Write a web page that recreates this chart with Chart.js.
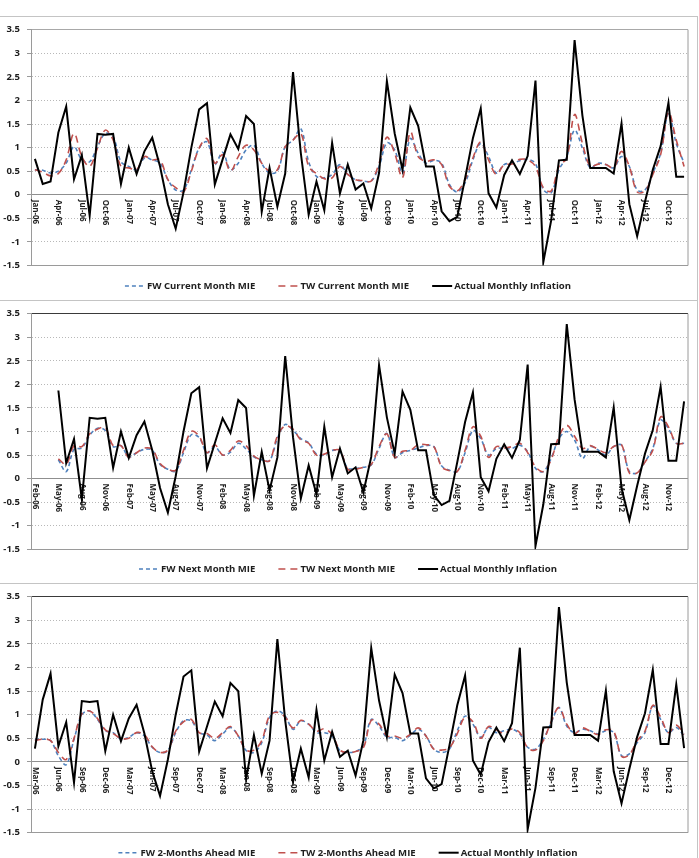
<!DOCTYPE html>
<html>
<head>
<meta charset="utf-8">
<script src="https://cdn.jsdelivr.net/npm/chart.js@4.4.1/dist/chart.umd.min.js"></script>
<style>
body{margin:0;background:#fff;width:699px;height:858px;position:relative;overflow:hidden;}
.sep{position:absolute;left:0;width:697px;height:0;border-top:1px solid #c4c4c4;}
.vline{position:absolute;left:697px;top:16px;width:0;height:842px;border-left:1px solid #c4c4c4;}
canvas{position:absolute;left:0;display:block;}
</style>
</head>
<body>
<div class="sep" style="top:16px"></div>
<div class="sep" style="top:300px"></div>
<div class="sep" style="top:583px"></div>
<div class="vline"></div>
<canvas id="c1" width="699" height="283" style="top:17px"></canvas>
<canvas id="c2" width="699" height="282" style="top:301px"></canvas>
<canvas id="c3" width="699" height="274" style="top:584px"></canvas>
<script>
// months Jan-06 .. Feb-13
var months = ['Jan-06','Feb-06','Mar-06','Apr-06','May-06','Jun-06','Jul-06','Aug-06','Sep-06','Oct-06','Nov-06','Dec-06',
    'Jan-07','Feb-07','Mar-07','Apr-07','May-07','Jun-07','Jul-07','Aug-07','Sep-07','Oct-07','Nov-07','Dec-07',
    'Jan-08','Feb-08','Mar-08','Apr-08','May-08','Jun-08','Jul-08','Aug-08','Sep-08','Oct-08','Nov-08','Dec-08',
    'Jan-09','Feb-09','Mar-09','Apr-09','May-09','Jun-09','Jul-09','Aug-09','Sep-09','Oct-09','Nov-09','Dec-09',
    'Jan-10','Feb-10','Mar-10','Apr-10','May-10','Jun-10','Jul-10','Aug-10','Sep-10','Oct-10','Nov-10','Dec-10',
    'Jan-11','Feb-11','Mar-11','Apr-11','May-11','Jun-11','Jul-11','Aug-11','Sep-11','Oct-11','Nov-11','Dec-11',
    'Jan-12','Feb-12','Mar-12','Apr-12','May-12','Jun-12','Jul-12','Aug-12','Sep-12','Oct-12','Nov-12','Dec-12',
    'Jan-13','Feb-13'];

// actual monthly inflation, Jan-06 .. Feb-13
var actualInflation = [0.76,0.23,0.28,1.32,1.87,0.33,0.84,-0.44,1.29,1.27,1.29,0.23,
    1.00,0.44,0.92,1.21,0.60,-0.20,-0.72,0.05,1.00,1.81,1.94,0.22,
    0.75,1.28,0.97,1.67,1.50,-0.36,0.57,-0.25,0.45,2.60,0.88,-0.42,
    0.28,-0.33,1.10,0.03,0.64,0.11,0.24,-0.29,0.46,2.41,1.30,0.53,
    1.85,1.46,0.60,0.60,-0.35,-0.56,-0.47,0.35,1.20,1.83,0.03,-0.27,
    0.42,0.73,0.44,0.82,2.42,-1.43,-0.55,0.73,0.74,3.28,1.68,0.57,
    0.57,0.57,0.45,1.51,-0.20,-0.88,-0.15,0.53,1.03,1.95,0.38,0.38,
    1.64,0.29];

// current month MIE, Jan-06 .. Dec-12
var fwCurrent = [0.53,0.52,0.46,0.50,0.67,1.02,0.74,0.70,1.02,1.30,1.23,0.70,
    0.60,0.53,0.78,0.74,0.67,0.32,0.10,0.10,0.53,0.99,1.12,0.64,
    0.90,0.53,0.67,0.95,1.05,0.67,0.46,0.50,1.02,1.16,1.40,0.70,
    0.39,0.36,0.43,0.64,0.43,0.32,0.29,0.29,0.60,1.10,0.95,0.46,
    1.19,0.88,0.67,0.73,0.67,0.22,0.06,0.25,0.74,1.09,0.81,0.46,
    0.64,0.67,0.72,0.75,0.66,0.11,0.04,0.53,0.81,1.37,0.99,0.57,
    0.67,0.64,0.57,0.81,0.60,0.10,0.10,0.46,0.88,1.72,1.09,0.67];
var twCurrent = [0.53,0.48,0.40,0.45,0.74,1.30,0.81,0.60,0.99,1.37,1.16,0.60,
    0.57,0.53,0.81,0.74,0.74,0.32,0.15,0.06,0.50,0.99,1.19,0.67,
    0.85,0.50,0.81,1.05,0.95,0.67,0.50,0.53,1.02,1.16,1.30,0.60,
    0.45,0.34,0.36,0.60,0.43,0.32,0.30,0.29,0.67,1.22,0.88,0.36,
    1.33,0.81,0.71,0.74,0.64,0.18,0.08,0.32,0.78,1.12,0.74,0.43,
    0.64,0.65,0.75,0.74,0.60,0.15,0.08,0.60,0.78,1.70,1.09,0.60,
    0.65,0.64,0.57,0.92,0.60,0.06,0.08,0.43,0.85,1.75,1.16,0.60];

// next month MIE, Feb-06 .. Jan-13
var fwNext = [null,null,null,0.40,0.15,0.62,0.65,0.92,1.07,1.02,0.68,0.70,
    0.46,0.55,0.62,0.60,0.30,0.20,0.16,0.55,0.93,0.87,0.55,0.68,
    0.50,0.56,0.75,0.63,0.46,0.40,0.38,0.85,1.15,1.03,0.85,0.76,
    0.52,0.50,0.60,0.58,0.22,0.22,0.24,0.29,0.64,0.96,0.45,0.55,
    0.60,0.65,0.70,0.68,0.27,0.18,0.15,0.55,1.02,0.85,0.50,0.64,
    0.64,0.64,0.71,0.57,0.22,0.15,0.43,0.85,1.00,0.82,0.43,0.68,
    0.61,0.50,0.68,0.71,0.15,0.12,0.36,0.64,1.24,1.06,0.75,0.75];
var twNext = [null,null,null,0.42,0.30,0.70,0.68,0.95,1.05,1.08,0.70,0.70,
    0.45,0.55,0.65,0.62,0.32,0.20,0.18,0.60,1.00,0.90,0.55,0.72,
    0.50,0.60,0.80,0.70,0.48,0.40,0.38,0.90,1.12,1.05,0.82,0.75,
    0.50,0.52,0.60,0.60,0.20,0.20,0.24,0.30,0.68,0.95,0.45,0.58,
    0.60,0.72,0.72,0.68,0.25,0.17,0.15,0.60,1.10,0.90,0.45,0.68,
    0.65,0.68,0.75,0.55,0.25,0.15,0.40,0.90,1.13,0.90,0.64,0.70,
    0.62,0.55,0.68,0.72,0.12,0.12,0.35,0.60,1.31,1.10,0.75,0.75];

// 2-months ahead MIE, Mar-06 .. Feb-13
var fw2Ahead = [0.48,0.48,0.45,0.13,-0.06,0.48,1.00,1.08,0.90,0.66,0.62,0.48,
    0.52,0.62,0.55,0.31,0.20,0.24,0.62,0.87,0.87,0.62,0.57,0.45,
    0.59,0.73,0.55,0.24,0.20,0.41,0.94,1.08,0.97,0.69,0.87,0.80,
    0.62,0.62,0.55,0.24,0.20,0.22,0.34,0.90,0.76,0.52,0.52,0.45,
    0.57,0.69,0.55,0.27,0.20,0.27,0.66,0.97,0.80,0.52,0.73,0.62,
    0.66,0.69,0.59,0.31,0.27,0.48,0.83,1.15,0.76,0.62,0.69,0.66,
    0.59,0.66,0.62,0.13,0.17,0.41,0.62,1.18,0.90,0.62,0.73,0.55];
var tw2Ahead = [0.45,0.48,0.45,0.20,0.05,0.50,1.02,1.08,0.92,0.68,0.60,0.50,
    0.50,0.62,0.58,0.32,0.20,0.25,0.65,0.85,0.90,0.62,0.60,0.50,
    0.62,0.75,0.55,0.25,0.25,0.45,0.98,1.05,0.95,0.72,0.88,0.80,
    0.65,0.70,0.58,0.25,0.20,0.22,0.30,0.88,0.80,0.55,0.55,0.50,
    0.58,0.72,0.55,0.27,0.25,0.30,0.60,0.95,0.85,0.50,0.75,0.68,
    0.60,0.70,0.62,0.30,0.25,0.45,0.85,1.15,0.80,0.60,0.72,0.65,
    0.58,0.68,0.65,0.12,0.15,0.45,0.65,1.20,0.95,0.62,0.78,0.58];

var yTicksMin = -1.5, yTicksMax = 3.5, yStep = 0.5;

var BLUE = '#4f81bd', RED = '#c0504d', TEXT = '#1e1e1e';
var FONT = '"Open Sans", Lato, sans-serif';

// font size so that a text is as wide as in the picture
function fitSize(ctx, text, width){
    ctx.font = 'bold 10px ' + FONT;
    return 10 * width / ctx.measureText(text).width;
}

// rotated month labels, right border and legend
var panelDecor = {
    id: 'panelDecor',
    beforeDatasetsDraw: function(chart, args, opts){
        var ctx = chart.ctx, area = chart.chartArea;
        var xs = chart.scales.x, ys = chart.scales.y;
        var zeroY = ys.getPixelForValue(0);
        ctx.save();
        ctx.strokeStyle = '#9a9a9a';
        ctx.lineWidth = 1;
        ctx.beginPath();
        ctx.moveTo(area.right, area.top);
        ctx.lineTo(area.right, area.bottom);
        ctx.stroke();

        ctx.fillStyle = TEXT;
        ctx.font = 'bold ' + fitSize(ctx, 'Oct-06', 25.5).toFixed(2) + 'px ' + FONT;
        ctx.textAlign = 'left';
        ctx.textBaseline = 'middle';
        var labels = chart.data.labels;
        for(var i = 0; i < labels.length; i += 3){
            var x = xs.getPixelForValue(i);
            ctx.save();
            ctx.translate(x, zeroY + 5);
            ctx.rotate(Math.PI / 2);
            ctx.fillText(labels[i], 0, 0);
            ctx.restore();
        }
        ctx.restore();
    },
    afterDraw: function(chart, args, opts){
        var ctx = chart.ctx;
        var sets = chart.data.datasets;
        ctx.save();
        ctx.font = 'bold ' + fitSize(ctx, 'Actual Monthly Inflation', 117).toFixed(2) + 'px ' + FONT;
        ctx.textBaseline = 'middle';
        ctx.textAlign = 'left';
        var total = 0;
        sets.forEach(function(ds, i){
            total += 22 + ctx.measureText(ds.label).width + (i < sets.length - 1 ? 23 : 0);
        });
        var x = 348 - total / 2;
        var y = opts.legendY;
        sets.forEach(function(ds){
            ctx.strokeStyle = ds.borderColor;
            ctx.lineWidth = ds.borderWidth;
            ctx.setLineDash(ds.borderDash || []);
            ctx.beginPath();
            ctx.moveTo(x, y);
            ctx.lineTo(x + 20, y);
            ctx.stroke();
            ctx.setLineDash([]);
            ctx.fillStyle = TEXT;
            ctx.fillText(ds.label, x + 22, y + 0.5);
            x += 22 + ctx.measureText(ds.label).width + 23;
        });
        ctx.restore();
    }
};

function makePanel(id, labels, fw, tw, actual, names, topColor, pad, legendY){
    var canvas = document.getElementById(id).getContext('2d');
    return new Chart(canvas, {
        type: 'line',
        data: {
            labels: labels,
            datasets: [
                {
                    label: names[0],
                    data: fw,
                    borderColor: BLUE,
                    borderWidth: 1.6,
                    borderDash: [4, 3],
                    tension: 0.35,
                    pointRadius: 0,
                    fill: false,
                    order: 2
                },
                {
                    label: names[1],
                    data: tw,
                    borderColor: RED,
                    borderWidth: 1.6,
                    borderDash: [7, 5],
                    tension: 0.35,
                    pointRadius: 0,
                    fill: false,
                    order: 1
                },
                {
                    label: names[2],
                    data: actual,
                    borderColor: '#000000',
                    borderWidth: 2,
                    tension: 0,
                    pointRadius: 0,
                    fill: false,
                    order: 0
                }
            ]
        },
        options: {
            responsive: false,
            animation: false,
            layout: { padding: { left: 0, right: 11, top: pad[0], bottom: pad[1] } },
            plugins: {
                legend: { display: false },
                tooltip: { enabled: false },
                panelDecor: { legendY: legendY }
            },
            scales: {
                x: {
                    type: 'category',
                    offset: true,
                    display: false
                },
                y: {
                    min: yTicksMin,
                    max: yTicksMax,
                    afterFit: function(scale){ scale.width = 31; },
                    ticks: {
                        stepSize: yStep,
                        padding: 7,
                        color: TEXT,
                        font: { family: FONT, weight: 'bold', size: 9.5 },
                        callback: function(v){ return String(v); }
                    },
                    grid: {
                        tickLength: 4,
                        tickColor: '#9a9a9a',
                        lineWidth: 1,
                        color: function(c){
                            var v = c.tick ? c.tick.value : null;
                            if(v === yTicksMax) return topColor;
                            if(v === 0) return '#8f8f8f';
                            if(v === yTicksMin) return '#9a9a9a';
                            return '#b8b8b8';
                        }
                    },
                    border: {
                        color: '#9a9a9a',
                        width: 1,
                        dash: function(c){
                            var v = c.tick ? c.tick.value : null;
                            if(v === yTicksMax || v === 0 || v === yTicksMin) return [];
                            return [1, 2];
                        }
                    }
                }
            }
        },
        plugins: [panelDecor]
    });
}

makePanel('c1', months.slice(0, 84), fwCurrent, twCurrent, actualInflation.slice(0, 84),
    ['FW Current Month MIE', 'TW Current Month MIE', 'Actual Monthly Inflation'],
    '#a8a8a8', [11.3, 34.5], 269);
makePanel('c2', months.slice(1, 85), fwNext, twNext, [null, null, null].concat(actualInflation.slice(4, 85)),
    ['FW Next Month MIE', 'TW Next Month MIE', 'Actual Monthly Inflation'],
    '#3a3a3a', [9.7, 33.7], 268);
makePanel('c3', months.slice(2, 86), fw2Ahead, tw2Ahead, actualInflation.slice(2, 86),
    ['FW 2-Months Ahead MIE', 'TW 2-Months Ahead MIE', 'Actual Monthly Inflation'],
    '#3a3a3a', [10.3, 25.3], 268.7);
</script>
</body>
</html>
